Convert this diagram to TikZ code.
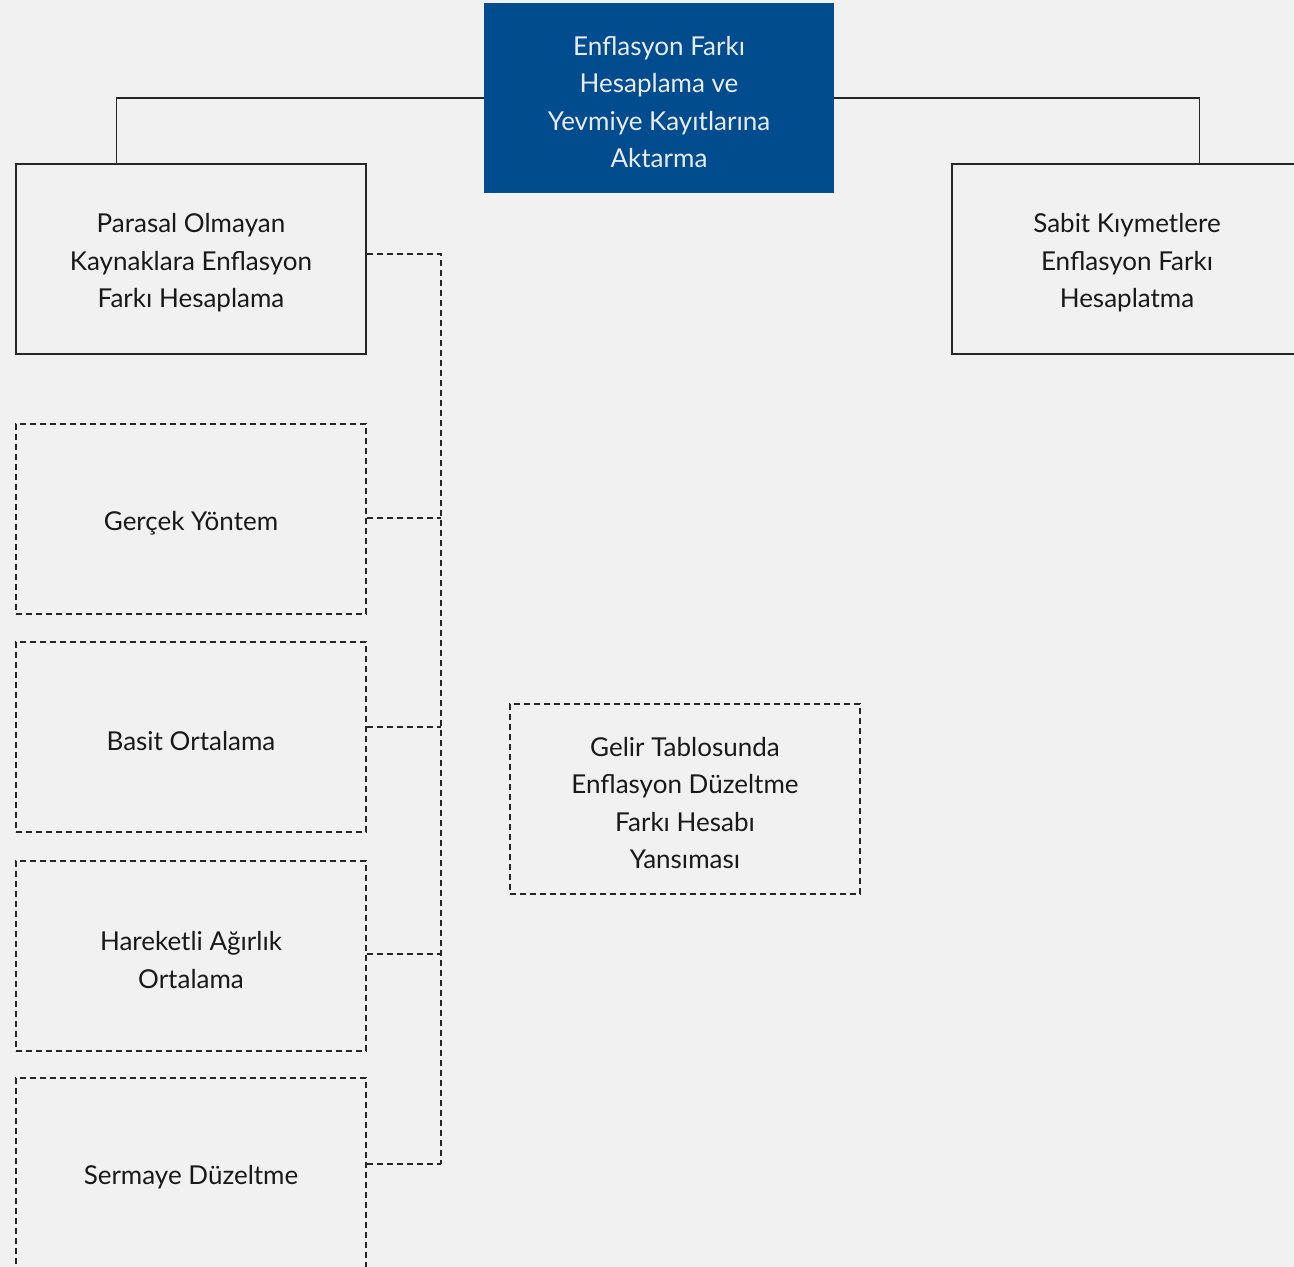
\documentclass[tikz,border=0pt]{standalone}
\usepackage{fontspec}
\setmainfont{Lato}
\usetikzlibrary{positioning}

\definecolor{BackColor}{rgb}{0.945,0.945,0.945}
\definecolor{HeadColor}{rgb}{0.0,0.298,0.561}
\definecolor{HeadText}{rgb}{0.91,0.93,0.96}
\definecolor{BoxText}{rgb}{0.1,0.1,0.1}
\tikzstyle{tb-base}=[rectangle,
                       text centered,
                       align=center,
                       text=BoxText,
                       font=\fontsize{13}{18.75}\selectfont,
                       execute at begin node={\vbox\bgroup\vskip4pt\hbox\bgroup},
                       execute at end node={\egroup\egroup},
                       minimum width=175pt,
                       minimum height=95pt,
                       inner sep=0pt,
                      ]
\tikzstyle{tb-head}=[tb-base,
                       fill=HeadColor,
                       text=HeadText]
\tikzstyle{tb-main}=[tb-base,
                       draw=black!85,
                       line width=0.75pt]
\tikzstyle{tb-sub}=[tb-base,
                      draw=black!85,
                      line width=0.65pt,
                      dash pattern=on 3pt off 2pt]
\tikzstyle{tb-link}=[draw=black!85, line width=0.6pt]
\tikzstyle{tb-dlink}=[tb-link, line width=0.65pt, dash pattern=on 3pt off 2pt]

\begin{document}
\begin{tikzpicture}[x=0.5pt, y=-0.5pt]
    \useasboundingbox[fill=BackColor] (0,0) rectangle (1294,1267);
    \clip (0,0) rectangle (1294,1267);

    % Boxes
    % --------------------------------------------------------------------------
    \node at ( 659,   98) (head)      [tb-head] {Enflasyon Farkı\\ Hesaplama ve\\
                                                Yevmiye Kayıtlarına\\ Aktarma};

    \node at ( 191,  259) (parasal)   [tb-main] {Parasal Olmayan\\ Kaynaklara Enflasyon\\
                                                Farkı Hesaplama};
    \node at (1127,  259) (sabit)     [tb-main] {Sabit Kıymetlere\\ Enflasyon Farkı\\
                                                Hesaplatma};

    \node at ( 191,  519) (gercek)    [tb-sub] {Gerçek Yöntem};
    \node at ( 191,  737) (basit)     [tb-sub] {Basit Ortalama};
    \node at ( 191,  956) (hareketli) [tb-sub] {Hareketli Ağırlık\\ Ortalama};
    \node at ( 191, 1173) (sermaye)   [tb-sub] {Sermaye Düzeltme};

    \node at ( 685,  799) (gelir)     [tb-sub] {Gelir Tablosunda\\ Enflasyon Düzeltme\\
                                                Farkı Hesabı\\ Yansıması};

    % Solid lines
    % --------------------------------------------------------------------------
    \draw[tb-link] (head.west) -| ([xshift=50.5pt]parasal.north west);
    \draw[tb-link] (head.east) -| ([xshift=124pt]sabit.north west);

    % Dashed lines
    % --------------------------------------------------------------------------
    \coordinate (bus_top) at (441, 254);
    \coordinate (bus_bot) at (441, 1164);
    \draw[tb-dlink] ([yshift=2.5pt]parasal.east) -- (bus_top) -- (bus_bot);
    \draw[tb-dlink] ([yshift=0.5pt]gercek.east)   -- ([yshift=0.5pt]gercek.east -| bus_top);
    \draw[tb-dlink] ([yshift=5pt]basit.east)      -- ([yshift=5pt]basit.east -| bus_top);
    \draw[tb-dlink] ([yshift=1pt]hareketli.east)  -- ([yshift=1pt]hareketli.east -| bus_top);
    \draw[tb-dlink] (sermaye.east |- bus_bot)     -- (bus_bot);
\end{tikzpicture}
\end{document}
